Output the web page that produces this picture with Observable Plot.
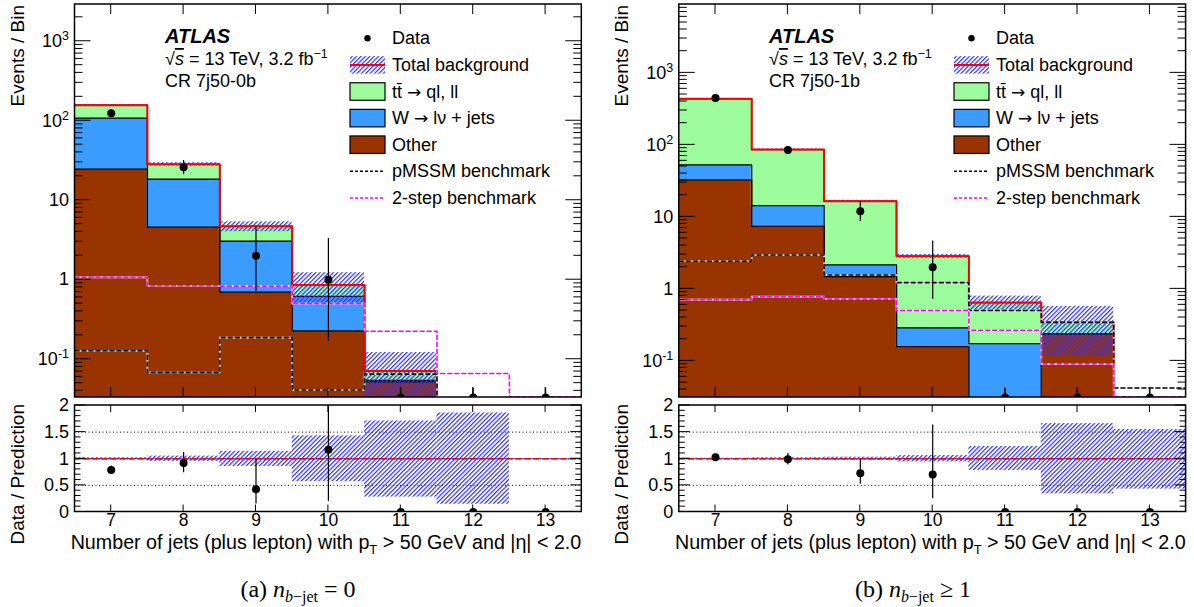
<!DOCTYPE html>
<html><head><meta charset="utf-8">
<script src="https://cdn.jsdelivr.net/npm/d3@7"></script>
<script src="https://cdn.jsdelivr.net/npm/@observablehq/plot@0.6"></script>
<style>
body{margin:0;background:#fff;}
#wrap{position:relative;width:1194px;height:607px;overflow:hidden;background:#fff;font-family:"Liberation Sans",Arial,sans-serif;}
#wrap svg.p{position:absolute;}
</style></head><body>
<svg width="0" height="0" style="position:absolute">
<defs>
<pattern id="hatch" patternUnits="userSpaceOnUse" width="3.1" height="3.1" patternTransform="rotate(45)">
<line x1="0.6" y1="-1" x2="0.6" y2="5" stroke="#3030ff" stroke-width="1.2"/>
</pattern>
</defs>
</svg>
<div id="wrap"></div>
<script>
const bins = [7, 8, 9, 10, 11, 12, 13];
const xTicks = [7, 8, 9, 10, 11, 12, 13];
const yTicksMain = [0.1, 1, 10, 100, 1000];
const yTickLabelsMain = ["10^-1", "1", "10", "10^2", "10^3"];
const yTicksRatio = [0, 0.5, 1, 1.5, 2];

// (a) CR 7j50-0b
const otherA = [24.6, 4.58, 0.70, 0.227, 0.052, 0.012, 0];
const wjetsA = [83.4, 13.8, 2.35, 0.39, 0.002, 0, 0];
const ttbarA = [49, 9.9, 1.65, 0.24, 0.017, 0, 0];
const bandLoA = [0.98, 0.95, 0.855, 0.57, 0.28, 0.145, null];
const bandHiA = [1.02, 1.05, 1.14, 1.43, 1.71, 1.86, null];
const dataA = [124, 26, 2, 1, 0, 0, 0];
const dataLoA = [113.5, 20.9, 0.71, 0.17, null, null, null];
const dataHiA = [135.6, 31.6, 4.64, 3.3, 0.043, 0.043, 0.043];
const pmssmA = [0.128, 0.068, 0.187, 0.041, 0.065, 0, 0];
const twostepA = [1.07, 0.84, 0.83, 0.5, 0.225, 0.066, 0.0335];

// (b) CR 7j50-1b
const otherB = [32.6, 7.4, 1.48, 0.158, 0, 0.237, 0.015];
const wjetsB = [20, 6.9, 0.67, 0.129, 0.174, 0, 0];
const ttbarB = [383.4, 71.7, 14.35, 2.553, 0.471, 0.106, 0];
const bandLoB = [0.99, 0.98, 0.97, 0.94, 0.78, 0.34, 0.43];
const bandHiB = [1.01, 1.02, 1.03, 1.06, 1.23, 1.66, 1.55];
const dataB = [449, 85, 12, 2, 0, 0, 0];
const dataLoB = [428, 76, 8.6, 0.71, null, null, null];
const dataHiB = [470, 94.5, 16.2, 4.64, 0.041, 0.041, 0.041];
const pmssmB = [2.42, 2.96, 1.56, 1.22, 0.50, 0.343, 0.042];
const twostepB = [0.71, 0.78, 0.72, 0.50, 0.266, 0.091, 0.0315];

const legendItems = [["Data"], ["Total background"], ["tt\u0304 ", "\u2192", " ql, ll"], ["W ", "\u2192", " l\u03bd + jets"], ["Other"], ["pMSSM benchmark"], ["2-step benchmark"]];
const colors = {tt: "#9cfc9c", w: "#3a9cff", other: "#993300", red: "#ff0000", magenta: "#ff00ff", blue: "#3030ff"};

const NS = "http://www.w3.org/2000/svg";
const wrap = document.getElementById("wrap");
const FONT = "Liberation Sans, Arial, sans-serif";

function stepPts(vals, tiny) {
  const pts = bins.map((b, i) => ({x: b - 0.5, y: vals[i] > 0 ? vals[i] : tiny}));
  pts.push({x: bins[bins.length - 1] + 0.5, y: pts[pts.length - 1].y});
  return pts;
}

function frameTicks(svg, plot, o) {
  const sx = plot.scale("x"), sy = plot.scale("y");
  const xa = sx.range[0], xb = sx.range[1];
  const yb = sy.range[0], ya = sy.range[1];
  const g = d3.select(svg).append("g").attr("stroke", "black").attr("fill", "none");
  const seg = (x1, y1, x2, y2) => g.append("line").attr("x1", x1).attr("y1", y1).attr("x2", x2).attr("y2", y2).attr("stroke-width", 1);
  for (const v of o.xMajor) { const x = sx.apply(v); seg(x, yb, x, yb - o.xLen); seg(x, ya, x, ya + o.xLen); }
  for (const v of o.yMajor) { const y = sy.apply(v); seg(xa, y, xa + o.yMajLen, y); seg(xb, y, xb - o.yMajLen, y); }
  for (const v of o.yMinor) { const y = sy.apply(v); seg(xa, y, xa + o.yMinLen, y); seg(xb, y, xb - o.yMinLen, y); }
  g.append("rect").attr("x", xa).attr("y", ya).attr("width", xb - xa).attr("height", yb - ya).attr("stroke-width", 1.5);
}

function supLabels(svg) {
  svg.querySelectorAll('[aria-label="y-axis tick label"] text').forEach(t => {
    const s = t.textContent;
    if (!s.includes("^")) return;
    const [b, e] = s.split("^");
    t.textContent = "";
    const t1 = document.createElementNS(NS, "tspan"); t1.textContent = b;
    const t2 = document.createElementNS(NS, "tspan"); t2.textContent = e;
    t2.setAttribute("dy", "-0.55em"); t2.setAttribute("font-size", "12.5");
    t.append(t1, t2);
  });
}

function txt(g, x, y, s, attrs = {}) {
  const t = g.append("text").attr("x", x).attr("y", y).text(s).attr("font-family", FONT).attr("font-size", 18)
    .attr("fill", "black").attr("text-anchor", "start");
  for (const k in attrs) t.attr(k, attrs[k]);
  return t;
}

function panel(cfg) {
  const {left, marginLeft, other, wjets, ttbar, bandLo, bandHi, data, dataLo, dataHi, pmssm, twostep, yDomain, region} = cfg;
  const base = yDomain[0];
  const tiny = base / 50;
  const c1 = other.slice();
  const c2 = other.map((v, i) => v + wjets[i]);
  const c3 = c2.map((v, i) => v + ttbar[i]);
  const R = (i, y1, y2) => ({x1: bins[i] - 0.5, x2: bins[i] + 0.5, y1, y2});
  const otherRects = bins.map((b, i) => R(i, tiny, c1[i])).filter((d, i) => other[i] > 0);
  const wRects = bins.map((b, i) => R(i, c1[i] > 0 ? c1[i] : tiny, c2[i])).filter((d, i) => wjets[i] > 0);
  const ttRects = bins.map((b, i) => R(i, c2[i] > 0 ? c2[i] : tiny, c3[i])).filter((d, i) => ttbar[i] > 0);
  const bandRects = bins.map((b, i) => R(i, c3[i] * bandLo[i], c3[i] * bandHi[i])).filter((d, i) => bandLo[i] != null && c3[i] > 0);
  const pts = bins.map((b, i) => ({x: b, y: data[i] > 0 ? data[i] : base, lo: data[i] > 0 ? dataLo[i] : base, hi: dataHi[i]}));
  const rect = (d, o) => Plot.rect(d, {x1: "x1", x2: "x2", y1: "y1", y2: "y2", clip: true, ...o});
  const fillRect = (d, c) => rect(d, {fill: c, insetLeft: -0.4, insetRight: -0.4, insetBottom: -0.4});
  const line = (vals, o) => Plot.line(stepPts(vals, tiny), {x: "x", y: "y", curve: "step-after", clip: true, ...o});
  const style = {background: "none", overflow: "visible", fontFamily: FONT, fontSize: "18px", color: "black"};

  const main = Plot.plot({
    width: 600, height: 400, marginLeft, marginRight: 600 - marginLeft - 506.8, marginTop: 4, marginBottom: 3,
    style,
    x: {domain: [6.5, 13.5]},
    y: {type: "log", domain: yDomain},
    marks: [
      fillRect(otherRects, colors.other),
      fillRect(wRects, colors.w),
      fillRect(ttRects, colors.tt),
      line(c3, {stroke: "black", strokeWidth: 1.3}),
      line(c2, {stroke: "black", strokeWidth: 1.3}),
      line(c1, {stroke: "black", strokeWidth: 1.3}),
      rect(bandRects, {fill: "url(#hatch)"}),
      line(c3, {stroke: colors.red, strokeWidth: 2}),
      line(pmssm, {stroke: "white", strokeWidth: 1.6}),
      line(pmssm, {stroke: "black", strokeWidth: 1.6, strokeDasharray: "4,3"}),
      line(twostep, {stroke: "white", strokeWidth: 1.6}),
      line(twostep, {stroke: colors.magenta, strokeWidth: 1.6, strokeDasharray: "4,3"}),
      Plot.ruleX(pts, {x: "x", y1: "lo", y2: "hi", stroke: "black", strokeWidth: 1.2, clip: true}),
      Plot.dot(pts, {x: "x", y: "y", r: 4, fill: "black", stroke: "none", clip: true}),
      Plot.axisX({ticks: [], tickSize: 0, label: null}),
      Plot.axisY({ticks: yTicksMain, tickFormat: d => yTickLabelsMain[yTicksMain.indexOf(d)], tickSize: 0, tickPadding: 6, label: null})
    ]
  });
  main.classList.add("p");
  main.style.left = left + "px"; main.style.top = "0px";
  wrap.appendChild(main);
  supLabels(main);
  const minors = [];
  for (let e = -2; e <= 4; e++) for (let k = 2; k <= 9; k++) { const v = k * Math.pow(10, e); if (v > yDomain[0] && v < yDomain[1]) minors.push(v); }
  frameTicks(main, main, {xMajor: xTicks, xLen: 10, yMajor: yTicksMain.filter(v => v < yDomain[1]), yMajLen: 16, yMinor: minors, yMinLen: 8});

  const g = d3.select(main).append("g");
  txt(g, 0, 0, "Events / Bin", {transform: "translate(17,5) rotate(-90)", "text-anchor": "end", "dominant-baseline": "central", "font-size": 19});
  // ATLAS label
  txt(g, 165, 43, "ATLAS", {"font-weight": "bold", "font-style": "italic", "font-size": 20});
  const t2 = txt(g, 165, 65, "");
  t2.append("tspan").text("\u221a");
  t2.append("tspan").text("s").attr("font-style", "italic").attr("text-decoration", "overline");
  t2.append("tspan").text(" = 13 TeV, 3.2 fb");
  t2.append("tspan").text("\u22121").attr("dy", -7).attr("font-size", 12.5);
  txt(g, 165, 87, region);
  // legend
  const row0 = 38.3, step = 26.6, sx0 = 350, sw = 35, sh = 17.5, tx = 392;
  legendItems.forEach((parts, i) => {
    const t = txt(g, tx, row0 + i * step, "", {"dominant-baseline": "central"});
    parts.forEach((p, k) => {
      const ts = t.append("tspan").text(p);
      if (p === "\u2192") ts.attr("font-family", "DejaVu Sans, sans-serif").attr("font-size", 17);
    });
  });
  g.append("circle").attr("cx", sx0 + sw / 2).attr("cy", row0).attr("r", 3.2).attr("fill", "black");
  const r1 = row0 + step;
  g.append("rect").attr("x", sx0).attr("y", r1 - sh / 2).attr("width", sw).attr("height", sh).attr("fill", "url(#hatch)");
  g.append("line").attr("x1", sx0).attr("x2", sx0 + sw).attr("y1", r1).attr("y2", r1).attr("stroke", colors.red).attr("stroke-width", 2);
  [colors.tt, colors.w, colors.other].forEach((c, k) => {
    const y = row0 + (2 + k) * step;
    g.append("rect").attr("x", sx0).attr("y", y - sh / 2).attr("width", sw).attr("height", sh).attr("fill", c).attr("stroke", "black").attr("stroke-width", 1.2);
  });
  ["black", colors.magenta].forEach((c, k) => {
    const y = row0 + (5 + k) * step;
    g.append("line").attr("x1", sx0).attr("x2", sx0 + sw).attr("y1", y).attr("y2", y).attr("stroke", c).attr("stroke-width", 1.5).attr("stroke-dasharray", "3,2");
  });

  // ratio panel
  const bandR = bins.map((b, i) => R(i, bandLo[i], bandHi[i])).filter((d, i) => bandLo[i] != null);
  const rpts = bins.map((b, i) => ({x: b, y: data[i] / c3[i] || 0, lo: data[i] > 0 ? dataLo[i] / c3[i] : null, hi: data[i] > 0 ? dataHi[i] / c3[i] : null}));
  const ratio = Plot.plot({
    width: 600, height: 160, marginLeft, marginRight: 600 - marginLeft - 506.8, marginTop: 5, marginBottom: 48.5,
    style,
    x: {domain: [6.5, 13.5]},
    y: {domain: [0, 2]},
    marks: [
      Plot.ruleY([0.5, 1, 1.5], {stroke: "black", strokeWidth: 1, strokeDasharray: "1,2.5"}),
      rect(bandR, {fill: "url(#hatch)"}),
      Plot.ruleY([1], {stroke: colors.blue, strokeWidth: 1.2}),
      Plot.ruleY([1], {stroke: colors.red, strokeWidth: 1.5, strokeDasharray: "6,3"}),
      Plot.ruleX(rpts.filter(d => d.lo != null), {x: "x", y1: "lo", y2: "hi", stroke: "black", strokeWidth: 1.2, clip: true}),
      Plot.dot(rpts, {x: "x", y: "y", r: 4, fill: "black", stroke: "none", clip: true}),
      Plot.axisX({ticks: xTicks, tickFormat: d => String(d), tickSize: 0, tickPadding: 2, label: null, fontSize: 17.5}),
      Plot.axisY({ticks: yTicksRatio, tickFormat: d => String(d), tickSize: 0, tickPadding: 6, label: null})
    ]
  });
  ratio.classList.add("p");
  ratio.style.left = left + "px"; ratio.style.top = "400px";
  wrap.appendChild(ratio);
  const rmin = d3.range(1, 20).map(i => i / 10).filter(v => Math.round(v * 10) % 5 !== 0);
  frameTicks(ratio, ratio, {xMajor: xTicks, xLen: 7, yMajor: yTicksRatio, yMajLen: 11, yMinor: rmin, yMinLen: 6});
  const gr = d3.select(ratio).append("g");
  txt(gr, 0, 0, "Data / Prediction", {transform: "translate(17,4) rotate(-90)", "text-anchor": "end", "dominant-baseline": "central", "font-size": 19});
  const xt = txt(gr, marginLeft + 506.8, 148.5, "", {"text-anchor": "end", "font-size": 19.7});
  xt.append("tspan").text("Number of jets (plus lepton) with p");
  xt.append("tspan").text("T").attr("dy", 5).attr("font-size", 13);
  xt.append("tspan").text(" > 50 GeV and |\u03b7| < 2.0").attr("dy", -5);
}

panel({left: 0, marginLeft: 74.5, other: otherA, wjets: wjetsA, ttbar: ttbarA, bandLo: bandLoA, bandHi: bandHiA,
  data: dataA, dataLo: dataLoA, dataHi: dataHiA, pmssm: pmssmA, twostep: twostepA, yDomain: [0.033, 2900], region: "CR 7j50-0b"});
panel({left: 604, marginLeft: 74.8, other: otherB, wjets: wjetsB, ttbar: ttbarB, bandLo: bandLoB, bandHi: bandHiB,
  data: dataB, dataLo: dataLoB, dataHi: dataHiB, pmssm: pmssmB, twostep: twostepB, yDomain: [0.031, 8900], region: "CR 7j50-1b"});

// captions
const cap = d3.select(wrap).append("svg").attr("class", "p").attr("width", 1194).attr("height", 50).style("left", "0px").style("top", "565px");
function caption(x, pre, rel) {
  const t = cap.append("text").attr("x", x).attr("y", 32).attr("text-anchor", "middle").attr("font-family", "Liberation Serif, Times New Roman, serif").attr("font-size", 24);
  t.append("tspan").text(pre + " ");
  t.append("tspan").text("n").attr("font-style", "italic");
  const s = t.append("tspan").attr("dy", 5).attr("font-size", 16);
  s.append("tspan").text("b").attr("font-style", "italic");
  s.append("tspan").text("\u2212jet");
  t.append("tspan").text(" " + rel).attr("dy", -5);
}
caption(298, "(a)", "= 0");
caption(913, "(b)", "\u2265 1");
</script>
</body></html>
